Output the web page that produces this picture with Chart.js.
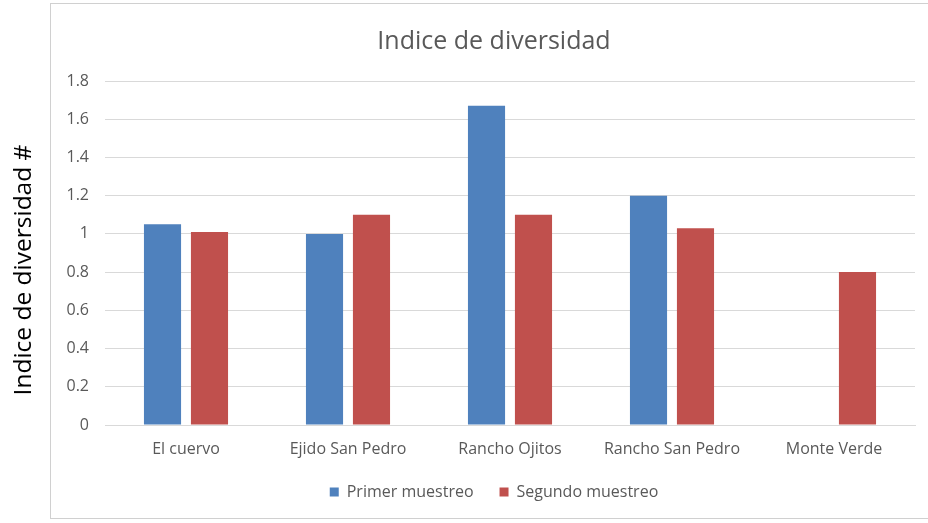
<!DOCTYPE html>
<html>
<head>
<meta charset="utf-8">
<script src="https://cdn.jsdelivr.net/npm/chart.js@4/dist/chart.umd.min.js"></script>
<style>
  html, body { margin: 0; padding: 0; background: #fff; overflow: hidden; }
  #wrap { position: relative; width: 928px; height: 523px; overflow: hidden; }
  #box { position: absolute; left: 50px; top: 3px; width: 890px; height: 516px; border: 1px solid #d0d0d0; box-sizing: border-box; }
  canvas { position: absolute; left: 0; top: 0; }
</style>
</head>
<body>
<div id="wrap">
  <div id="box"></div>
  <canvas id="c" width="988" height="523"></canvas>
</div>
<script>
const categories = ["El cuervo", "Ejido San Pedro", "Rancho Ojitos", "Rancho San Pedro", "Monte Verde"];
const primerMuestreo = [1.05, 1.0, 1.67, 1.2, null];
const segundoMuestreo = [1.01, 1.1, 1.1, 1.03, 0.8];
const yTicks = [0, 0.2, 0.4, 0.6, 0.8, 1, 1.2, 1.4, 1.6, 1.8];
const chartTitle = "Indice de diversidad";
const yTitle = "Indice de diversidad #";

const FONT = "'Open Sans', 'Liberation Sans', sans-serif";

const yTitlePlugin = {
  id: 'yTitlePlugin',
  afterDraw(chart) {
    const ctx = chart.ctx;
    ctx.save();
    ctx.translate(24, 270);
    ctx.rotate(-Math.PI / 2);
    ctx.fillStyle = '#000';
    ctx.font = "24.5px " + FONT;
    ctx.textAlign = 'center';
    ctx.textBaseline = 'middle';
    ctx.fillText(yTitle, 0, 0);
    ctx.restore();
  }
};

new Chart(document.getElementById('c'), {
  type: 'bar',
  data: {
    labels: categories,
    datasets: [
      { label: "Primer muestreo", data: primerMuestreo, backgroundColor: '#4F81BD', categoryPercentage: 0.58, barPercentage: 0.79 },
      { label: "Segundo muestreo", data: segundoMuestreo, backgroundColor: '#C0504D', categoryPercentage: 0.58, barPercentage: 0.79 }
    ]
  },
  plugins: [yTitlePlugin],
  options: {
    responsive: false,
    animation: false,
    devicePixelRatio: 1,
    layout: { padding: { left: 0, right: 0, top: 0, bottom: 13 } },
    plugins: {
      title: {
        display: true, text: chartTitle, color: '#595959',
        font: { family: FONT, size: 25, weight: 'normal' },
        padding: { top: 27, bottom: 24 }
      },
      legend: {
        position: 'bottom',
        labels: {
          color: '#595959', font: { family: FONT, size: 16 },
          boxWidth: 9, boxHeight: 9, padding: 26
        }
      },
      tooltip: { enabled: false }
    },
    scales: {
      x: {
        afterFit: (s) => { s.height = 33; },
        grid: { display: false, drawTicks: false },
        border: { display: true, color: '#d9d9d9' },
        ticks: { color: '#595959', font: { family: FONT, size: 16 }, padding: 15 }
      },
      y: {
        min: 0, max: 1.8,
        afterBuildTicks: (s) => { s.ticks = yTicks.map(v => ({ value: v })); },
        afterFit: (s) => { s.width = 105; },
        grid: { color: '#d9d9d9', drawTicks: false },
        border: { display: false },
        ticks: { color: '#595959', font: { family: FONT, size: 16 }, padding: 16,
                 callback: (v) => String(v) }
      },
      y2: {
        type: 'linear', position: 'right',
        afterFit: (s) => { s.width = 73; },
        grid: { display: false, drawTicks: false },
        border: { display: false },
        ticks: { display: false }
      }
    }
  }
});
</script>
</body>
</html>
